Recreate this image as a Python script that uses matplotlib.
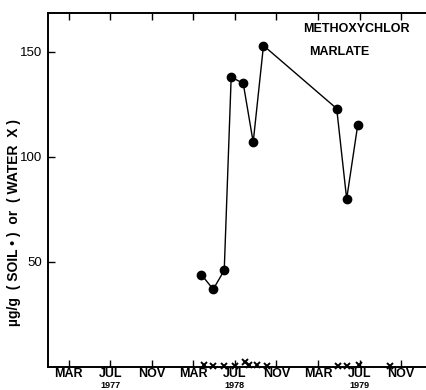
import matplotlib
matplotlib.use("Agg")
import matplotlib.pyplot as plt

# Months counted from January 1977 (Jan 1977 = 0)
soil_month = [14.76, 15.91, 16.97, 17.64, 18.80, 19.76, 20.75, 27.80, 28.76, 29.82]
soil_ugg = [44, 37, 46, 138, 135, 107, 153, 123, 80, 115]

water_month = [15.0, 15.9, 16.9, 18.0, 19.0, 19.35, 20.1, 21.1, 27.9, 28.8, 29.9, 32.9]
water_ugg = [1, 0.5, 0.5, 0.5, 2.5, 1, 1, 0.5, 0.5, 0.5, 1, 0.5]

tick_months = [2, 6, 10, 14, 18, 22, 26, 30, 34]
tick_labels = ["MAR", "JUL", "NOV"] * 3
year_months = [6, 18, 30]
year_labels = ["1977", "1978", "1979"]
y_ticks = [50, 100, 150]

plt.rcParams["font.family"] = ["Liberation Sans", "DejaVu Sans"]

fig = plt.figure(figsize=(4.26, 3.90), dpi=100)
ax_h = 354
ax = fig.add_axes([48 / 426, 23 / 390, 378 / 426, ax_h / 390])

ax.plot(soil_month, soil_ugg, color="black", lw=1.0, marker="o", ms=6,
        markerfacecolor="black", markeredgecolor="black", zorder=3)
ax.plot(water_month, water_ugg, ls="none", marker="x", ms=4, mew=1.4,
        color="black", clip_on=False, zorder=4)

ax.set_xlim(0, 36.4)
ax.set_ylim(0, 168.5)

ax.spines["right"].set_visible(False)
for s in ("left", "bottom", "top"):
    ax.spines[s].set_linewidth(1.4)

ax.set_xticks(tick_months)
ax.set_xticklabels(tick_labels, fontsize=9, fontweight="bold")
ax.tick_params(axis="x", direction="in", length=5, width=1.0, top=True,
               pad=1)
ax.set_yticks(y_ticks)
ax.set_yticklabels([str(v) for v in y_ticks], fontsize=9.5)
ax.tick_params(axis="y", direction="in", length=5, width=1.0, pad=4)

# year captions just under the JUL labels
for m, yr in zip(year_months, year_labels):
    ax.text(m, -22.5 / ax_h, yr, transform=ax.get_xaxis_transform(),
            ha="center", va="bottom", fontsize=6.5, fontweight="bold",
            clip_on=False)

ax.text(0.675, 0.955, "METHOXYCHLOR", transform=ax.transAxes,
        fontsize=9, fontweight="bold", ha="left", va="center")
ax.text(0.69, 0.89, "MARLATE", transform=ax.transAxes,
        fontsize=9, fontweight="bold", ha="left", va="center")

fig.text(14 / 426, 1 - 223 / 390, "\u00b5g/g  ( SOIL \u2022 )  or  ( WATER  X )",
         rotation=90, ha="center", va="center", fontsize=10,
         fontweight="bold")

fig.savefig("out.png", dpi=100)
